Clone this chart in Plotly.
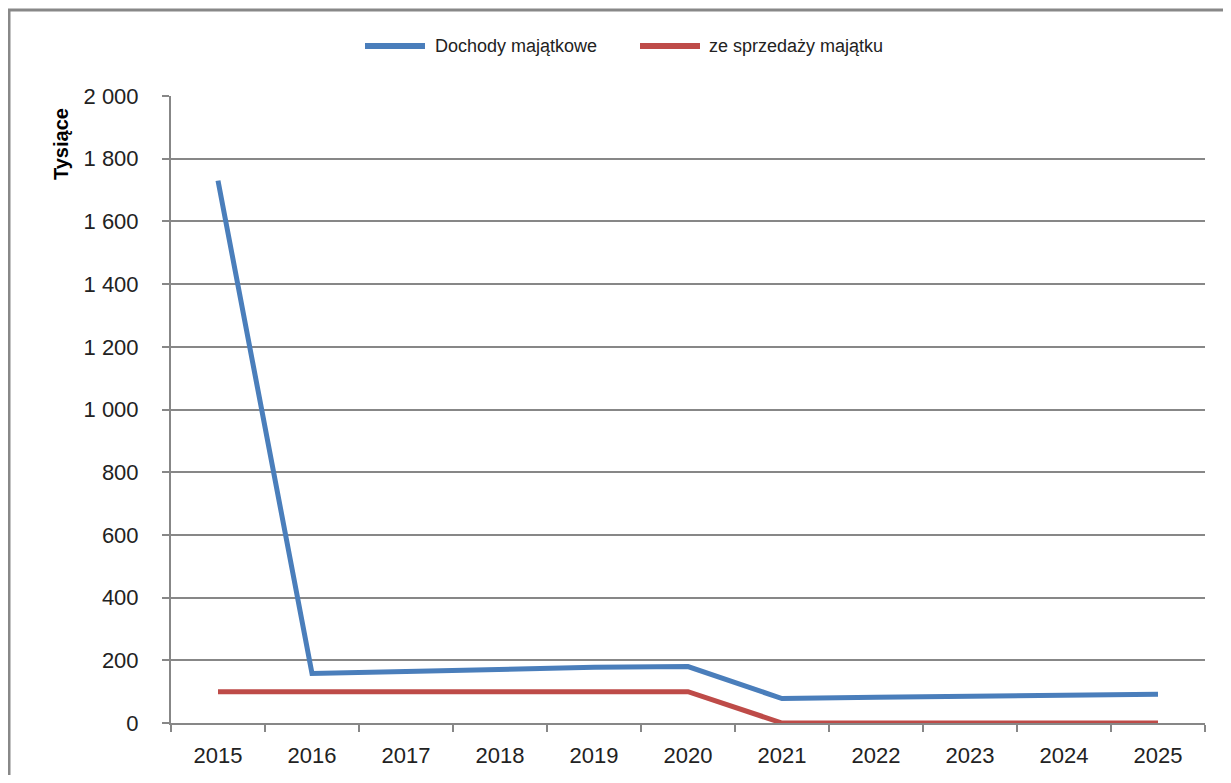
import plotly.graph_objects as go

years = ["2015", "2016", "2017", "2018", "2019", "2020", "2021", "2022", "2023", "2024", "2025"]
dochody_majatkowe = [1730, 158, 164, 171, 178, 180, 78, 82, 86, 91, 92]
ze_sprzedazy = [100, 100, 100, 100, 100, 100, 0, 0, 0, 0, 0]
y_ticks = [0, 200, 400, 600, 800, 1000, 1200, 1400, 1600, 1800, 2000]
series_names = ["Dochody majątkowe", "ze sprzedaży majątku"]
series_colors = ["#4A7EBB", "#BE4B48"]

# page has an 8px body margin; target pixel positions are given in window coords
OFF = 8
W, H = 1231 - 2 * OFF, 783 - 2 * OFF
L, R, T, B = 171 - OFF, 1205 - OFF, 96 - OFF, 723 - OFF

def px_x(x):
    return (x - OFF - L) / (R - L)

def px_y(y):
    return (B - (y - OFF)) / (B - T)

fig = go.Figure()
for name, vals, col in zip(series_names, [dochody_majatkowe, ze_sprzedazy], series_colors):
    fig.add_trace(go.Scatter(x=years, y=vals, mode="lines", name=name,
                             line=dict(color=col, width=5)))

grid = "#878787"
fnt = "Liberation Sans, Arial"
fig.update_layout(
    width=W, height=H,
    margin=dict(l=L, r=W - R, t=T, b=H - B, autoexpand=False),
    paper_bgcolor="white", plot_bgcolor="white",
    separators=", ",
    font=dict(family=fnt, color="#222222"),
    showlegend=False,
    xaxis=dict(type="category", tickson="boundaries", ticks="outside", ticklen=7, tickwidth=2,
               tickcolor=grid, showline=True, linecolor=grid, linewidth=2, showgrid=False,
               tickfont=dict(size=22, family=fnt), ticklabelstandoff=12, automargin=False,
               range=[-0.5, 10.5]),
    yaxis=dict(range=[0, 2000], tickvals=y_ticks, tickformat=",d", ticks="outside", ticklen=7,
               tickwidth=2, tickcolor=grid, showline=True, linecolor=grid, linewidth=2,
               showgrid=True, gridcolor=grid, gridwidth=2, zeroline=False, automargin=False,
               tickfont=dict(size=22, family=fnt), ticklabelstandoff=19),
)

# legend drawn at the top, as in the reference
leg_y = 46
for (x0, x1, tx), name, col in zip([(365, 425, 433), (640, 700, 707)], series_names, series_colors):
    fig.add_shape(type="line", xref="paper", yref="paper", x0=px_x(x0), x1=px_x(x1),
                  y0=px_y(leg_y), y1=px_y(leg_y), line=dict(color=col, width=6))
    fig.add_annotation(text=name, xref="paper", yref="paper", x=px_x(tx), y=px_y(leg_y),
                       xanchor="left", yanchor="middle", showarrow=False,
                       font=dict(size=18, family=fnt, color="#222222"))

fig.add_annotation(text="<b>Tysiące</b>", textangle=-90, xref="paper", yref="paper",
                   x=px_x(61), y=px_y(144), xanchor="center", yanchor="middle", showarrow=False,
                   font=dict(size=20, family=fnt, color="#000000"))

fig.add_shape(type="rect", xref="paper", yref="paper",
              x0=px_x(9), x1=px_x(1245), y0=px_y(800), y1=px_y(10),
              line=dict(color="#888888", width=3), fillcolor="rgba(0,0,0,0)", layer="above")

fig.write_html("out.html")
